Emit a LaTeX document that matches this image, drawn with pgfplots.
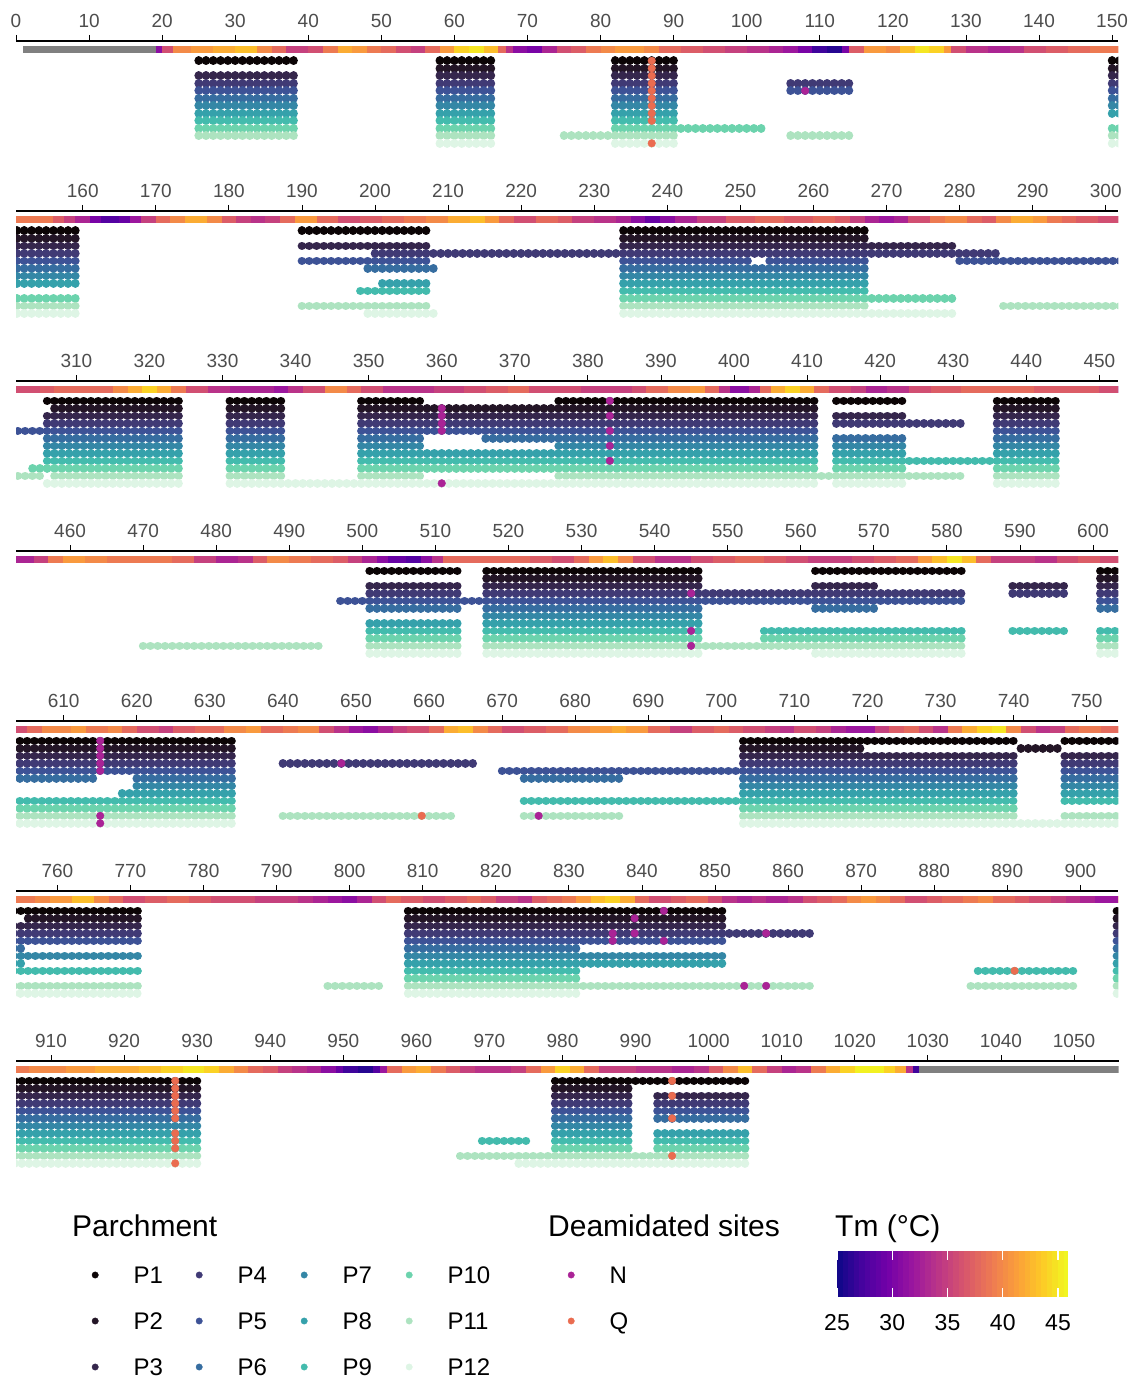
\documentclass[border=0pt]{standalone}
\usepackage{fontspec}
\setmainfont{Liberation Sans}
\usepackage{pgfplots}
\usepackage{pgfplotstable}
\pgfplotsset{compat=1.18}

\definecolor{cP1}{HTML}{0B0405}
\definecolor{cP2}{HTML}{231526}
\definecolor{cP3}{HTML}{35264C}
\definecolor{cP4}{HTML}{403A75}
\definecolor{cP5}{HTML}{3D5296}
\definecolor{cP6}{HTML}{366DA0}
\definecolor{cP7}{HTML}{3487A6}
\definecolor{cP8}{HTML}{35A1AB}
\definecolor{cP9}{HTML}{43BBAD}
\definecolor{cP10}{HTML}{6CD3AD}
\definecolor{cP11}{HTML}{ADE3C0}
\definecolor{cP12}{HTML}{DEF5E5}
\definecolor{cN}{RGB}{170,35,150}
\definecolor{cQ}{RGB}{234,108,80}
\definecolor{gray30}{RGB}{77,77,77}
\definecolor{stripgray}{RGB}{128,128,128}

\pgfplotsset{
  colormap={plasma}{rgb255=(13,8,135) rgb255=(71,3,159) rgb255=(115,1,168) rgb255=(156,23,158) rgb255=(189,55,134) rgb255=(216,87,107) rgb255=(237,121,83) rgb255=(250,158,59) rgb255=(253,201,38) rgb255=(240,249,33)},
  rowstyle/.style={color=#1, line width=8.6pt, line cap=round, dash pattern=on 0.01pt off 7.29pt},
  legaxis/.style={hide axis, scale only axis, width=1pt, height=1pt, xmin=0, xmax=1, ymin=0, ymax=1, anchor=west,
    legend style={at={(0,0.5)}, anchor=west, draw=none, fill=none, inner sep=0pt, outer sep=0pt, row sep=28.7pt,
      font=\fontsize{24}{24}\selectfont, nodes={inner sep=0pt, text height=17.3pt, text depth=0pt},
      /tikz/every odd column/.append style={column sep=35pt}},
    legend cell align=left},
}

% peptide coverage, one table per parchment (start/end of each covered stretch)
\pgfplotstableread[row sep=\\]{x y\\ 25 -1\\ 38 -1\\ nan nan\\ 58 -1\\ 65 -1\\ nan nan\\ 82 -1\\ 90 -1\\ nan nan\\ 150 -1\\ 159 -1\\ nan nan\\ 190 -1\\ 207 -1\\ nan nan\\ 234 -1\\ 267 -1\\ nan nan\\ 306 -1\\ 324 -1\\ nan nan\\ 331 -1\\ 338 -1\\ nan nan\\ 349 -1\\ 357 -1\\ nan nan\\ 376 -1\\ 411 -1\\ nan nan\\ 414 -1\\ 423 -1\\ nan nan\\ 436 -1\\ 444 -1\\ nan nan\\ 501 -1\\ 513 -1\\ nan nan\\ 517 -1\\ 546 -1\\ nan nan\\ 562 -1\\ 582 -1\\ nan nan\\ 601 -1\\ 633 -1\\ nan nan\\ 703 -1\\ 740 -1\\ nan nan\\ 747 -1\\ 771 -1\\ nan nan\\ 808 -1\\ 851 -1\\ nan nan\\ 905 -1\\ 930 -1\\ nan nan\\ 979 -1\\ 1005 -1\\}\Pone
\pgfplotstableread[row sep=\\]{x y\\ 58 -2\\ 65 -2\\ nan nan\\ 82 -2\\ 90 -2\\ nan nan\\ 150 -2\\ 159 -2\\ nan nan\\ 234 -2\\ 267 -2\\ nan nan\\ 307 -2\\ 324 -2\\ nan nan\\ 331 -2\\ 338 -2\\ nan nan\\ 349 -2\\ 411 -2\\ nan nan\\ 436 -2\\ 444 -2\\ nan nan\\ 517 -2\\ 546 -2\\ nan nan\\ 601 -2\\ 633 -2\\ nan nan\\ 703 -2\\ 719 -2\\ nan nan\\ 741 -2\\ 746 -2\\ nan nan\\ 756 -2\\ 771 -2\\ nan nan\\ 808 -2\\ 851 -2\\ nan nan\\ 905 -2\\ 930 -2\\ nan nan\\ 979 -2\\ 989 -2\\}\Ptwo
\pgfplotstableread[row sep=\\]{x y\\ 25 -3\\ 38 -3\\ nan nan\\ 58 -3\\ 65 -3\\ nan nan\\ 82 -3\\ 90 -3\\ nan nan\\ 150 -3\\ 159 -3\\ nan nan\\ 190 -3\\ 207 -3\\ nan nan\\ 234 -3\\ 279 -3\\ nan nan\\ 306 -3\\ 324 -3\\ nan nan\\ 331 -3\\ 338 -3\\ nan nan\\ 349 -3\\ 411 -3\\ nan nan\\ 414 -3\\ 423 -3\\ nan nan\\ 436 -3\\ 444 -3\\ nan nan\\ 501 -3\\ 513 -3\\ nan nan\\ 517 -3\\ 546 -3\\ nan nan\\ 562 -3\\ 570 -3\\ nan nan\\ 589 -3\\ 596 -3\\ nan nan\\ 601 -3\\ 633 -3\\ nan nan\\ 703 -3\\ 740 -3\\ nan nan\\ 747 -3\\ 771 -3\\ nan nan\\ 808 -3\\ 851 -3\\ nan nan\\ 905 -3\\ 930 -3\\ nan nan\\ 979 -3\\ 989 -3\\ nan nan\\ 993 -3\\ 1005 -3\\}\Pthree
\pgfplotstableread[row sep=\\]{x y\\ 25 -4\\ 38 -4\\ nan nan\\ 58 -4\\ 65 -4\\ nan nan\\ 82 -4\\ 90 -4\\ nan nan\\ 106 -4\\ 114 -4\\ nan nan\\ 150 -4\\ 159 -4\\ nan nan\\ 200 -4\\ 285 -4\\ nan nan\\ 306 -4\\ 324 -4\\ nan nan\\ 331 -4\\ 338 -4\\ nan nan\\ 349 -4\\ 411 -4\\ nan nan\\ 414 -4\\ 431 -4\\ nan nan\\ 436 -4\\ 444 -4\\ nan nan\\ 501 -4\\ 513 -4\\ nan nan\\ 517 -4\\ 582 -4\\ nan nan\\ 589 -4\\ 596 -4\\ nan nan\\ 601 -4\\ 633 -4\\ nan nan\\ 640 -4\\ 666 -4\\ nan nan\\ 703 -4\\ 740 -4\\ nan nan\\ 747 -4\\ 771 -4\\ nan nan\\ 808 -4\\ 863 -4\\ nan nan\\ 905 -4\\ 930 -4\\ nan nan\\ 979 -4\\ 989 -4\\ nan nan\\ 993 -4\\ 1005 -4\\}\Pfour
\pgfplotstableread[row sep=\\]{x y\\ 25 -5\\ 38 -5\\ nan nan\\ 58 -5\\ 65 -5\\ nan nan\\ 82 -5\\ 90 -5\\ nan nan\\ 106 -5\\ 114 -5\\ nan nan\\ 150 -5\\ 159 -5\\ nan nan\\ 190 -5\\ 207 -5\\ nan nan\\ 234 -5\\ 251 -5\\ nan nan\\ 254 -5\\ 267 -5\\ nan nan\\ 280 -5\\ 324 -5\\ nan nan\\ 331 -5\\ 338 -5\\ nan nan\\ 349 -5\\ 411 -5\\ nan nan\\ 436 -5\\ 444 -5\\ nan nan\\ 497 -5\\ 582 -5\\ nan nan\\ 601 -5\\ 633 -5\\ nan nan\\ 670 -5\\ 740 -5\\ nan nan\\ 747 -5\\ 771 -5\\ nan nan\\ 808 -5\\ 851 -5\\ nan nan\\ 905 -5\\ 930 -5\\ nan nan\\ 979 -5\\ 989 -5\\ nan nan\\ 993 -5\\ 1005 -5\\}\Pfive
\pgfplotstableread[row sep=\\]{x y\\ 25 -6\\ 38 -6\\ nan nan\\ 58 -6\\ 65 -6\\ nan nan\\ 82 -6\\ 90 -6\\ nan nan\\ 150 -6\\ 159 -6\\ nan nan\\ 199 -6\\ 208 -6\\ nan nan\\ 234 -6\\ 267 -6\\ nan nan\\ 306 -6\\ 324 -6\\ nan nan\\ 331 -6\\ 338 -6\\ nan nan\\ 349 -6\\ 357 -6\\ nan nan\\ 366 -6\\ 411 -6\\ nan nan\\ 414 -6\\ 423 -6\\ nan nan\\ 436 -6\\ 444 -6\\ nan nan\\ 501 -6\\ 513 -6\\ nan nan\\ 517 -6\\ 546 -6\\ nan nan\\ 562 -6\\ 570 -6\\ nan nan\\ 601 -6\\ 614 -6\\ nan nan\\ 620 -6\\ 633 -6\\ nan nan\\ 673 -6\\ 686 -6\\ nan nan\\ 703 -6\\ 740 -6\\ nan nan\\ 747 -6\\ 755 -6\\ nan nan\\ 808 -6\\ 831 -6\\ nan nan\\ 905 -6\\ 930 -6\\ nan nan\\ 979 -6\\ 989 -6\\ nan nan\\ 993 -6\\ 1005 -6\\}\Psix
\pgfplotstableread[row sep=\\]{x y\\ 25 -7\\ 38 -7\\ nan nan\\ 58 -7\\ 65 -7\\ nan nan\\ 82 -7\\ 90 -7\\ nan nan\\ 150 -7\\ 159 -7\\ nan nan\\ 234 -7\\ 267 -7\\ nan nan\\ 306 -7\\ 324 -7\\ nan nan\\ 331 -7\\ 338 -7\\ nan nan\\ 349 -7\\ 357 -7\\ nan nan\\ 376 -7\\ 411 -7\\ nan nan\\ 414 -7\\ 423 -7\\ nan nan\\ 436 -7\\ 444 -7\\ nan nan\\ 517 -7\\ 546 -7\\ nan nan\\ 620 -7\\ 633 -7\\ nan nan\\ 703 -7\\ 740 -7\\ nan nan\\ 747 -7\\ 771 -7\\ nan nan\\ 808 -7\\ 851 -7\\ nan nan\\ 905 -7\\ 930 -7\\ nan nan\\ 979 -7\\ 989 -7\\}\Pseven
\pgfplotstableread[row sep=\\]{x y\\ 25 -8\\ 38 -8\\ nan nan\\ 58 -8\\ 65 -8\\ nan nan\\ 82 -8\\ 90 -8\\ nan nan\\ 150 -8\\ 159 -8\\ nan nan\\ 201 -8\\ 207 -8\\ nan nan\\ 234 -8\\ 267 -8\\ nan nan\\ 306 -8\\ 324 -8\\ nan nan\\ 331 -8\\ 338 -8\\ nan nan\\ 349 -8\\ 411 -8\\ nan nan\\ 414 -8\\ 423 -8\\ nan nan\\ 436 -8\\ 444 -8\\ nan nan\\ 501 -8\\ 513 -8\\ nan nan\\ 517 -8\\ 546 -8\\ nan nan\\ 618 -8\\ 633 -8\\ nan nan\\ 703 -8\\ 740 -8\\ nan nan\\ 747 -8\\ 755 -8\\ nan nan\\ 808 -8\\ 851 -8\\ nan nan\\ 905 -8\\ 930 -8\\ nan nan\\ 979 -8\\ 989 -8\\ nan nan\\ 993 -8\\ 1005 -8\\}\Peight
\pgfplotstableread[row sep=\\]{x y\\ 25 -9\\ 38 -9\\ nan nan\\ 58 -9\\ 65 -9\\ nan nan\\ 82 -9\\ 90 -9\\ nan nan\\ 198 -9\\ 207 -9\\ nan nan\\ 234 -9\\ 267 -9\\ nan nan\\ 306 -9\\ 324 -9\\ nan nan\\ 331 -9\\ 338 -9\\ nan nan\\ 349 -9\\ 411 -9\\ nan nan\\ 414 -9\\ 444 -9\\ nan nan\\ 501 -9\\ 513 -9\\ nan nan\\ 517 -9\\ 546 -9\\ nan nan\\ 555 -9\\ 582 -9\\ nan nan\\ 589 -9\\ 596 -9\\ nan nan\\ 601 -9\\ 633 -9\\ nan nan\\ 673 -9\\ 740 -9\\ nan nan\\ 747 -9\\ 771 -9\\ nan nan\\ 808 -9\\ 831 -9\\ nan nan\\ 886 -9\\ 899 -9\\ nan nan\\ 905 -9\\ 930 -9\\ nan nan\\ 969 -9\\ 975 -9\\ nan nan\\ 979 -9\\ 989 -9\\ nan nan\\ 993 -9\\ 1005 -9\\}\Pnine
\pgfplotstableread[row sep=\\]{x y\\ 25 -10\\ 38 -10\\ nan nan\\ 58 -10\\ 65 -10\\ nan nan\\ 82 -10\\ 102 -10\\ nan nan\\ 150 -10\\ 159 -10\\ nan nan\\ 234 -10\\ 279 -10\\ nan nan\\ 304 -10\\ 324 -10\\ nan nan\\ 331 -10\\ 338 -10\\ nan nan\\ 349 -10\\ 411 -10\\ nan nan\\ 414 -10\\ 423 -10\\ nan nan\\ 436 -10\\ 444 -10\\ nan nan\\ 501 -10\\ 513 -10\\ nan nan\\ 517 -10\\ 546 -10\\ nan nan\\ 555 -10\\ 582 -10\\ nan nan\\ 601 -10\\ 633 -10\\ nan nan\\ 703 -10\\ 740 -10\\ nan nan\\ 808 -10\\ 831 -10\\ nan nan\\ 905 -10\\ 930 -10\\ nan nan\\ 979 -10\\ 989 -10\\ nan nan\\ 993 -10\\ 1005 -10\\}\Pten
\pgfplotstableread[row sep=\\]{x y\\ 25 -11\\ 38 -11\\ nan nan\\ 58 -11\\ 65 -11\\ nan nan\\ 75 -11\\ 90 -11\\ nan nan\\ 106 -11\\ 114 -11\\ nan nan\\ 150 -11\\ 159 -11\\ nan nan\\ 190 -11\\ 207 -11\\ nan nan\\ 234 -11\\ 267 -11\\ nan nan\\ 286 -11\\ 305 -11\\ nan nan\\ 307 -11\\ 324 -11\\ nan nan\\ 331 -11\\ 338 -11\\ nan nan\\ 349 -11\\ 357 -11\\ nan nan\\ 376 -11\\ 431 -11\\ nan nan\\ 436 -11\\ 444 -11\\ nan nan\\ 470 -11\\ 494 -11\\ nan nan\\ 501 -11\\ 513 -11\\ nan nan\\ 517 -11\\ 582 -11\\ nan nan\\ 601 -11\\ 633 -11\\ nan nan\\ 640 -11\\ 663 -11\\ nan nan\\ 673 -11\\ 686 -11\\ nan nan\\ 703 -11\\ 740 -11\\ nan nan\\ 747 -11\\ 771 -11\\ nan nan\\ 797 -11\\ 804 -11\\ nan nan\\ 808 -11\\ 863 -11\\ nan nan\\ 885 -11\\ 899 -11\\ nan nan\\ 905 -11\\ 930 -11\\ nan nan\\ 966 -11\\ 1005 -11\\}\Peleven
\pgfplotstableread[row sep=\\]{x y\\ 58 -12\\ 65 -12\\ nan nan\\ 82 -12\\ 90 -12\\ nan nan\\ 150 -12\\ 159 -12\\ nan nan\\ 199 -12\\ 208 -12\\ nan nan\\ 234 -12\\ 279 -12\\ nan nan\\ 306 -12\\ 324 -12\\ nan nan\\ 331 -12\\ 411 -12\\ nan nan\\ 414 -12\\ 423 -12\\ nan nan\\ 436 -12\\ 444 -12\\ nan nan\\ 501 -12\\ 513 -12\\ nan nan\\ 517 -12\\ 546 -12\\ nan nan\\ 562 -12\\ 582 -12\\ nan nan\\ 601 -12\\ 633 -12\\ nan nan\\ 703 -12\\ 771 -12\\ nan nan\\ 808 -12\\ 831 -12\\ nan nan\\ 905 -12\\ 930 -12\\ nan nan\\ 974 -12\\ 1005 -12\\}\Ptwelve

% deamidated sites
\pgfplotstableread[row sep=\\]{x y\\ 108 -5\\ 360 -2\\ 360 -3\\ 360 -4\\ 360 -5\\ 360 -12\\ 383 -1\\ 383 -3\\ 383 -5\\ 383 -7\\ 383 -9\\ 545 -4\\ 545 -9\\ 545 -11\\ 615 -1\\ 615 -2\\ 615 -3\\ 615 -4\\ 615 -5\\ 615 -11\\ 615 -12\\ 648 -4\\ 675 -11\\ 836 -4\\ 836 -5\\ 839 -2\\ 839 -4\\ 843 -1\\ 843 -5\\ 854 -11\\ 857 -4\\ 857 -11\\}\Nsites
\pgfplotstableread[row sep=\\]{x y\\ 87 -1\\ 87 -2\\ 87 -3\\ 87 -4\\ 87 -5\\ 87 -6\\ 87 -7\\ 87 -8\\ 87 -9\\ 87 -12\\ 659 -11\\ 891 -9\\ 927 -1\\ 927 -2\\ 927 -3\\ 927 -4\\ 927 -5\\ 927 -6\\ 927 -8\\ 927 -9\\ 927 -10\\ 927 -12\\ 995 -1\\ 995 -3\\ 995 -6\\ 995 -11\\}\Qsites

% melting temperature strip (segment start, Tm)
\pgfplotstableread[row sep=\\]{x y t\\
19.1 0.51 31\\ 20 0.51 36\\ 21.5 0.51 40\\ 24 0.51 41\\ 27 0.51 42\\ 30 0.51 43\\ 33 0.51 40\\ 35 0.51 38\\ 37 0.51 35\\ 40 0.51 36\\ 42 0.51 39\\ 44 0.51 42\\ 46 0.51 41\\ 48 0.51 39\\ 50 0.51 38\\ 52 0.51 36\\ 54 0.51 35\\ 56 0.51 38\\ 58 0.51 41\\ 60 0.51 44\\ 62 0.51 45\\ 64 0.51 43\\ 66 0.51 38\\ 67 0.51 34\\ 68 0.51 31\\ 70 0.51 30\\ 72 0.51 33\\ 74 0.51 36\\ 76 0.51 37\\ 78 0.51 39\\ 80 0.51 40\\ 82 0.51 41\\ 86 0.51 40\\ 88 0.51 38\\ 91 0.51 37\\ 94 0.51 36\\ 97 0.51 35\\ 100 0.51 34\\ 103 0.51 33\\ 105 0.51 32\\ 107 0.51 30\\ 109 0.51 27\\ 111 0.51 26\\ 113 0.51 30\\ 114 0.51 37\\ 116 0.51 41\\ 119 0.51 40\\ 121 0.51 43\\ 123 0.51 45\\ 125 0.51 44\\ 127 0.51 41\\ 128 0.51 36\\ 130 0.51 34\\ 133 0.51 33\\ 136 0.51 34\\ 138 0.51 36\\ 141 0.51 37\\ 144 0.51 38\\ 147 0.51 39\\
150.87 0.51 39\\ 156 0.51 37\\ 157.5 0.51 35\\ 159 0.51 33\\ 161 0.51 30\\ 162.5 0.51 28\\ 165 0.51 29\\ 166.5 0.51 32\\ 168 0.51 35\\ 170 0.51 38\\ 172 0.51 40\\ 174 0.51 42\\ 177 0.51 40\\ 179 0.51 37\\ 181 0.51 35\\ 183 0.51 34\\ 185 0.51 35\\ 187 0.51 38\\ 189 0.51 41\\ 192 0.51 38\\ 195 0.51 36\\ 198 0.51 37\\ 201 0.51 38\\ 204 0.51 39\\ 207 0.51 40\\ 210 0.51 42\\ 213 0.51 43\\ 215 0.51 41\\ 217 0.51 38\\ 219 0.51 36\\ 222 0.51 38\\ 225 0.51 37\\ 227 0.51 35\\ 230 0.51 34\\ 233 0.51 33\\ 235 0.51 31\\ 237 0.51 29\\ 239 0.51 31\\ 241 0.51 33\\ 244 0.51 35\\ 248 0.51 37\\ 252 0.51 38\\ 256 0.51 37\\ 260 0.51 38\\ 263 0.51 37\\ 265 0.51 35\\ 267 0.51 33\\ 269 0.51 32\\ 271 0.51 33\\ 273 0.51 36\\ 276 0.51 39\\ 278 0.51 40\\ 281 0.51 38\\ 283 0.51 37\\ 285 0.51 40\\ 287 0.51 42\\ 290 0.51 41\\ 292 0.51 39\\ 294 0.51 38\\ 296 0.51 37\\ 299 0.51 36\\
301.74 0.51 36\\ 305 0.51 37\\ 307 0.51 38\\ 315 0.51 40\\ 317 0.51 42\\ 319 0.51 44\\ 321 0.51 42\\ 323 0.51 39\\ 325 0.51 36\\ 328 0.51 34\\ 331 0.51 33\\ 337 0.51 32\\ 339 0.51 34\\ 341 0.51 36\\ 344 0.51 40\\ 347 0.51 38\\ 349 0.51 36\\ 352 0.51 34\\ 359 0.51 35\\ 363 0.51 36\\ 366 0.51 37\\ 369 0.51 38\\ 372 0.51 36\\ 379 0.51 35\\ 386 0.51 36\\ 388 0.51 38\\ 391 0.51 40\\ 394 0.51 41\\ 396 0.51 38\\ 398 0.51 34\\ 399.5 0.51 31\\ 402 0.51 33\\ 403.5 0.51 38\\ 405 0.51 42\\ 407 0.51 44\\ 409 0.51 42\\ 411 0.51 38\\ 413 0.51 36\\ 416 0.51 35\\ 418 0.51 33\\ 421 0.51 34\\ 424 0.51 36\\ 427 0.51 37\\ 431 0.51 38\\ 441 0.51 37\\ 450 0.51 36\\
452.61 0.51 33\\ 455 0.51 35\\ 457 0.51 39\\ 459 0.51 41\\ 462 0.51 40\\ 465 0.51 39\\ 474 0.51 38\\ 477 0.51 35\\ 480 0.51 33\\ 483 0.51 34\\ 485 0.51 37\\ 487 0.51 40\\ 490 0.51 39\\ 493 0.51 38\\ 496 0.51 37\\ 498 0.51 35\\ 500 0.51 33\\ 502 0.51 31\\ 503.5 0.51 29\\ 506 0.51 28\\ 508 0.51 31\\ 509.5 0.51 34\\ 511 0.51 38\\ 523 0.51 37\\ 526 0.51 36\\ 529 0.51 38\\ 531 0.51 41\\ 533 0.51 43\\ 535 0.51 40\\ 537 0.51 36\\ 540 0.51 34\\ 545 0.51 36\\ 548 0.51 37\\ 551 0.51 38\\ 555 0.51 37\\ 558 0.51 36\\ 561 0.51 35\\ 567 0.51 36\\ 570 0.51 37\\ 573 0.51 38\\ 576 0.51 41\\ 578 0.51 43\\ 580 0.51 45\\ 582 0.51 43\\ 584 0.51 38\\ 586 0.51 35\\ 592 0.51 34\\ 595 0.51 36\\ 598 0.51 37\\ 601 0.51 36\\
603.48 0.51 36\\ 605 0.51 38\\ 607 0.51 40\\ 611 0.51 41\\ 613 0.51 39\\ 616 0.51 40\\ 618 0.51 38\\ 620 0.51 36\\ 623 0.51 35\\ 625 0.51 37\\ 628 0.51 38\\ 632 0.51 40\\ 635 0.51 41\\ 637 0.51 38\\ 640 0.51 39\\ 642 0.51 40\\ 645 0.51 36\\ 647 0.51 34\\ 649 0.51 32\\ 651 0.51 31\\ 653 0.51 33\\ 655 0.51 35\\ 657 0.51 36\\ 660 0.51 38\\ 662 0.51 42\\ 664 0.51 43\\ 666 0.51 40\\ 668 0.51 38\\ 670 0.51 36\\ 673 0.51 37\\ 676 0.51 38\\ 679 0.51 40\\ 682 0.51 41\\ 685 0.51 42\\ 687 0.51 41\\ 690 0.51 38\\ 693 0.51 35\\ 696 0.51 37\\ 699 0.51 38\\ 701 0.51 37\\ 703 0.51 36\\ 706 0.51 35\\ 708 0.51 34\\ 710 0.51 36\\ 713 0.51 35\\ 715 0.51 33\\ 717 0.51 32\\ 721 0.51 35\\ 723 0.51 37\\ 725 0.51 38\\ 727 0.51 36\\ 729 0.51 34\\ 731 0.51 39\\ 733 0.51 42\\ 735 0.51 44\\ 737 0.51 45\\ 739 0.51 40\\ 741 0.51 36\\ 743 0.51 34\\ 745 0.51 35\\ 747 0.51 38\\ 749 0.51 39\\ 752 0.51 38\\
754.35 0.51 39\\ 757 0.51 40\\ 759 0.51 41\\ 762 0.51 43\\ 765 0.51 40\\ 767 0.51 38\\ 769 0.51 36\\ 772 0.51 37\\ 775 0.51 38\\ 778 0.51 37\\ 781 0.51 36\\ 787 0.51 35\\ 793 0.51 34\\ 795 0.51 33\\ 797 0.51 32\\ 799 0.51 31\\ 801 0.51 33\\ 803 0.51 36\\ 805 0.51 38\\ 807 0.51 37\\ 810 0.51 36\\ 813 0.51 37\\ 816 0.51 38\\ 818 0.51 37\\ 820 0.51 35\\ 823 0.51 34\\ 825 0.51 37\\ 827 0.51 38\\ 829 0.51 39\\ 831 0.51 41\\ 833 0.51 43\\ 835 0.51 44\\ 837 0.51 42\\ 839 0.51 38\\ 841 0.51 36\\ 844 0.51 37\\ 846 0.51 38\\ 849 0.51 36\\ 851 0.51 34\\ 853 0.51 33\\ 855 0.51 34\\ 857 0.51 33\\ 860 0.51 34\\ 862 0.51 36\\ 864 0.51 37\\ 866 0.51 38\\ 868 0.51 40\\ 870 0.51 41\\ 872 0.51 40\\ 874 0.51 38\\ 876 0.51 36\\ 879 0.51 37\\ 881 0.51 38\\ 884 0.51 39\\ 886 0.51 40\\ 888 0.51 38\\ 891 0.51 37\\ 893 0.51 36\\ 896 0.51 35\\ 898 0.51 34\\ 900 0.51 33\\ 902 0.51 32\\
905.22 0.51 39\\ 907 0.51 40\\ 912 0.51 41\\ 916 0.51 42\\ 922 0.51 43\\ 925 0.51 44\\ 928 0.51 45\\ 931 0.51 44\\ 933 0.51 42\\ 935 0.51 40\\ 937 0.51 38\\ 939 0.51 37\\ 941 0.51 35\\ 943 0.51 34\\ 945 0.51 33\\ 947 0.51 31\\ 949 0.51 29\\ 950 0.51 27\\ 952 0.51 26\\ 954 0.51 28\\ 955 0.51 32\\ 956 0.51 38\\ 958 0.51 41\\ 960 0.51 42\\ 962 0.51 39\\ 964 0.51 37\\ 966 0.51 35\\ 968 0.51 34\\ 973 0.51 35\\ 975 0.51 38\\ 977 0.51 41\\ 979 0.51 44\\ 981 0.51 42\\ 983 0.51 38\\ 985 0.51 35\\ 990 0.51 34\\ 995 0.51 33\\ 998 0.51 34\\ 1000 0.51 37\\ 1002 0.51 40\\ 1004 0.51 43\\ 1006 0.51 38\\ 1008 0.51 35\\ 1010 0.51 33\\ 1012 0.51 34\\ 1014 0.51 39\\ 1016 0.51 42\\ 1018 0.51 44\\ 1020 0.51 45.5\\ 1024 0.51 44\\ 1025.5 0.51 42\\ 1027 0.51 34\\ 1028 0.51 27\\ 1028.8 0.51 27\\
}\strip

% colour bar of the Tm scale
\pgfplotstableread[row sep=\\]{x y c\\
25 0.5 25\\ 25.5 0.5 25.5\\ 26 0.5 26\\ 26.5 0.5 26.5\\ 27 0.5 27\\ 27.5 0.5 27.5\\ 28 0.5 28\\ 28.5 0.5 28.5\\ 29 0.5 29\\ 29.5 0.5 29.5\\ 30 0.5 30\\ 30.5 0.5 30.5\\ 31 0.5 31\\ 31.5 0.5 31.5\\ 32 0.5 32\\ 32.5 0.5 32.5\\ 33 0.5 33\\ 33.5 0.5 33.5\\ 34 0.5 34\\ 34.5 0.5 34.5\\ 35 0.5 35\\ 35.5 0.5 35.5\\ 36 0.5 36\\ 36.5 0.5 36.5\\ 37 0.5 37\\ 37.5 0.5 37.5\\ 38 0.5 38\\ 38.5 0.5 38.5\\ 39 0.5 39\\ 39.5 0.5 39.5\\ 40 0.5 40\\ 40.5 0.5 40.5\\ 41 0.5 41\\ 41.5 0.5 41.5\\ 42 0.5 42\\ 42.5 0.5 42.5\\ 43 0.5 43\\ 43.5 0.5 43.5\\ 44 0.5 44\\ 44.5 0.5 44.5\\ 45 0.5 45\\ 45.5 0.5 45.5\\ 45.9 0.5 45.9\\
}\cbar

\newcommand{\panel}[3]{%
\begin{axis}[
  at={(16pt,#1)}, anchor=north west,
  x=7.307pt, y=7.5pt,
  xmin=#2, xmax=#3, ymin=-12.6, ymax=1.64,
  axis x line=top, axis y line=none,
  every non boxed x axis/.append style={x axis line style={-}},
  x axis line style={-, line width=1.6pt, black},
  xtick distance=10,
  xtick align=outside, major tick length=6pt,
  tick style={black, line width=0.8pt},
  xticklabel style={font=\fontsize{19}{19}\selectfont, text=gray30, yshift=3.5pt},
  /pgf/number format/assume math mode=true,
  /pgf/number format/1000 sep={},
  unbounded coords=jump,
  colormap name=plasma, point meta min=25, point meta max=45.9,
]
\addplot[color=stripgray, line width=7.6pt] coordinates {(1,0.51) (19.1,0.51)};
\addplot[color=stripgray, line width=7.6pt] coordinates {(1028.8,0.51) (1058,0.51)};
\addplot[mesh, shader=flat corner, point meta=explicit, line width=7.6pt] table[x=x, y=y, meta=t] {\strip};
\addplot[rowstyle=cP1] table {\Pone};
\addplot[rowstyle=cP2] table {\Ptwo};
\addplot[rowstyle=cP3] table {\Pthree};
\addplot[rowstyle=cP4] table {\Pfour};
\addplot[rowstyle=cP5] table {\Pfive};
\addplot[rowstyle=cP6] table {\Psix};
\addplot[rowstyle=cP7] table {\Pseven};
\addplot[rowstyle=cP8] table {\Peight};
\addplot[rowstyle=cP9] table {\Pnine};
\addplot[rowstyle=cP10] table {\Pten};
\addplot[rowstyle=cP11] table {\Peleven};
\addplot[rowstyle=cP12] table {\Ptwelve};
\addplot[only marks, mark=*, mark size=3.8pt, color=cN, mark options={fill=cN, draw=cN}] table {\Nsites};
\addplot[only marks, mark=*, mark size=3.8pt, color=cQ, mark options={fill=cQ, draw=cQ}] table {\Qsites};
\end{axis}}

\newcommand{\legdot}[2]{\addlegendimage{legend image code/.code={\fill[#1] (0pt,0pt) circle (3.2pt);}}\addlegendentry{#2}}

\begin{document}
\begin{tikzpicture}
\useasboundingbox (0,0) rectangle (1135pt,-1380pt);

\panel{-41pt}{0}{150.87}
\panel{-211pt}{150.87}{301.74}
\panel{-381pt}{301.74}{452.61}
\panel{-551pt}{452.61}{603.48}
\panel{-721pt}{603.48}{754.35}
\panel{-891pt}{754.35}{905.22}
\panel{-1061pt}{905.22}{1056.09}

% legend titles
\node[anchor=base west, inner sep=0pt, font=\fontsize{30}{30}\selectfont] at (72pt,-1236pt) {Parchment};
\node[anchor=base west, inner sep=0pt, font=\fontsize{30}{30}\selectfont] at (548pt,-1236pt) {Deamidated sites};
\node[anchor=base west, inner sep=0pt, font=\fontsize{30}{30}\selectfont] at (835pt,-1236pt) {Tm (°C)};

% parchment legend (4 columns of 3)
\begin{axis}[legaxis, at={(91.8pt,-1321pt)}]
\legdot{cP1}{P1}
\legdot{cP2}{P2}
\legdot{cP3}{P3}
\end{axis}
\begin{axis}[legaxis, at={(195.8pt,-1321pt)}]
\legdot{cP4}{P4}
\legdot{cP5}{P5}
\legdot{cP6}{P6}
\end{axis}
\begin{axis}[legaxis, at={(300.8pt,-1321pt)}]
\legdot{cP7}{P7}
\legdot{cP8}{P8}
\legdot{cP9}{P9}
\end{axis}
\begin{axis}[legaxis, at={(405.8pt,-1321pt)}]
\legdot{cP10}{P10}
\legdot{cP11}{P11}
\legdot{cP12}{P12}
\end{axis}
% deamidation legend
\begin{axis}[legaxis, at={(567.8pt,-1298pt)}]
\legdot{cN}{N}
\legdot{cQ}{Q}
\end{axis}

% Tm colour bar
\begin{axis}[
  at={(837pt,-1297pt)}, anchor=south west,
  x=11.05pt, y=46pt, xmin=25, xmax=45.9, ymin=0, ymax=1,
  axis line style={draw=none}, ytick=\empty,
  xtick={25,30,35,40,45}, xtick pos=both, xticklabel pos=lower,
  xtick align=inside, major tick length=9pt,
  major tick style={draw=white, line width=1.2pt}, axis on top=true,
  xticklabel style={font=\fontsize{23}{23}\selectfont, yshift=-14pt},
  /pgf/number format/assume math mode=true,
  colormap name=plasma, point meta min=25, point meta max=45.9,
]
\addplot[mesh, shader=flat mean, point meta=explicit, line width=46pt] table[x=x, y=y, meta=c] {\cbar};
\end{axis}
\end{tikzpicture}
\end{document}
